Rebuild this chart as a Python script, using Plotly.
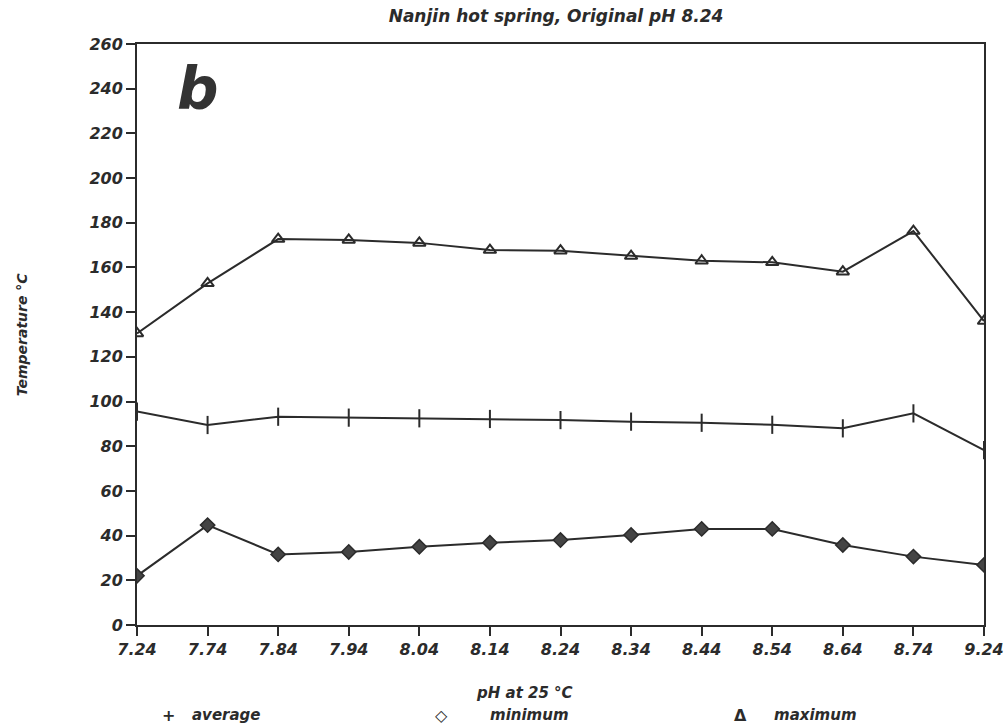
import plotly.graph_objects as go

# pH at 25 °C (categorical, evenly spaced)
ph_labels = ["7.24", "7.74", "7.84", "7.94", "8.04", "8.14", "8.24",
             "8.34", "8.44", "8.54", "8.64", "8.74", "9.24"]

# Temperatures in °C
average = [95.5, 89.5, 93.2, 92.8, 92.5, 92.2, 91.7, 91.0, 90.5, 89.6, 88.0, 94.7, 78.3]
minimum = [22.0, 44.7, 31.6, 32.7, 35.0, 36.8, 38.0, 40.3, 43.0, 43.0, 35.8, 30.6, 26.9]
maximum = [130.5, 152.9, 172.7, 172.3, 171.0, 167.8, 167.5, 165.1, 163.0, 162.3, 158.1, 176.3, 136.0]

ink = "#2b2b2b"
font_family = "DejaVu Sans"

def txt(size):
    return dict(family=font_family, size=size, color=ink, weight="bold", style="italic")

fig = go.Figure()
fig.add_trace(go.Scatter(
    x=ph_labels, y=maximum, mode="lines+markers", name="maximum",
    line=dict(color=ink, width=2),
    marker=dict(symbol="triangle-up-open", size=11, color=ink, line=dict(width=2, color=ink)),
))
fig.add_trace(go.Scatter(
    x=ph_labels, y=average, mode="lines+markers", name="average",
    line=dict(color=ink, width=2),
    marker=dict(symbol="line-ns", size=13, color=ink, line=dict(width=2, color=ink)),
))
fig.add_trace(go.Scatter(
    x=ph_labels, y=minimum, mode="lines+markers", name="minimum",
    line=dict(color=ink, width=2),
    marker=dict(symbol="diamond", size=11, color="#444444", line=dict(width=1.5, color=ink)),
))

fig.update_layout(
    width=1006, height=726,
    margin=dict(l=137, r=22, t=44, b=101, autoexpand=False),
    paper_bgcolor="white", plot_bgcolor="white",
    showlegend=False,
    title=dict(
        text="Nanjin hot spring, Original pH 8.24",
        x=0.5527, xanchor="center", y=0.986, yanchor="top",
        font=txt(17),
    ),
    xaxis=dict(
        type="category", range=[0, 12], automargin=False,
        showgrid=False, zeroline=False,
        showline=True, linecolor=ink, linewidth=2, mirror=True,
        ticks="outside", ticklen=9, tickwidth=2, tickcolor=ink,
        tickfont=txt(16),
    ),
    yaxis=dict(
        range=[0, 260], dtick=20, automargin=False,
        showgrid=False, zeroline=False,
        showline=True, linecolor=ink, linewidth=2, mirror=True,
        ticks="outside", ticklen=9, tickwidth=2, tickcolor=ink,
        tickfont=txt(16),
    ),
)

# axis titles
fig.add_annotation(
    text="pH at 25 °C", xref="paper", yref="paper", x=0.458, y=-0.117,
    xanchor="center", yanchor="middle", showarrow=False, font=txt(15),
)
fig.add_annotation(
    text="Temperature °C", xref="paper", yref="paper", x=-0.136, y=0.5,
    xanchor="center", yanchor="middle", showarrow=False, textangle=-90, font=txt(14),
)

# panel letter
fig.add_annotation(
    text="b", xref="paper", yref="paper", x=0.045, y=0.985,
    xanchor="left", yanchor="top", showarrow=False,
    font=dict(family="DejaVu Sans", size=58, color="#333333", weight="bold", style="italic"),
)

# legend row beneath the axis title
legend_items = [("+", "average", 0.037, 0.0626),
                ("◇", "minimum", 0.359, 0.414),
                ("Δ", "maximum", 0.712, 0.75)]
for sym, label, xs, xl in legend_items:
    fig.add_annotation(
        text=sym, xref="paper", yref="paper", x=xs, y=-0.155,
        xanchor="center", yanchor="middle", showarrow=False,
        font=dict(family=font_family, size=16, color=ink, weight="bold"),
    )
    fig.add_annotation(
        text=label, xref="paper", yref="paper", x=xl, y=-0.155,
        xanchor="left", yanchor="middle", showarrow=False, font=txt(15),
    )

fig.write_html("out.html")
